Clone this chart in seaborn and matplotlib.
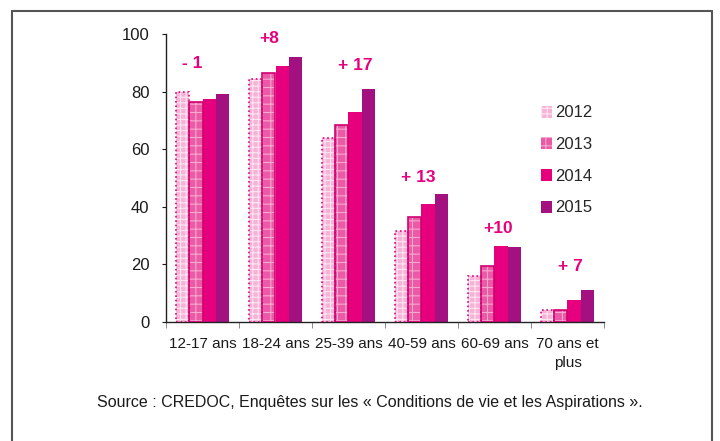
import matplotlib
matplotlib.use("Agg")
import matplotlib.pyplot as plt
import seaborn as sns
import pandas as pd
from matplotlib.patches import Rectangle
from matplotlib.lines import Line2D

categories = ["12-17 ans", "18-24 ans", "25-39 ans", "40-59 ans", "60-69 ans", "70 ans et\nplus"]
years = ["2012", "2013", "2014", "2015"]
v2012 = [80, 84.5, 64, 31.5, 16, 4.3]
v2013 = [76.3, 86.5, 68.4, 36.4, 19.3, 4.3]
v2014 = [77.5, 88.8, 72.8, 40.8, 26.5, 7.8]
v2015 = [79, 92, 81, 44.3, 26, 11]
deltas = ["- 1", "+8", "+ 17", "+ 13", "+10", "+ 7"]
delta_y = [89.6, 98.6, 89.2, 50, 32.6, 19.4]
delta_dx = [-0.14, -0.09, 0.09, -0.05, 0.05, 0.04]

rows = []
for i, c in enumerate(categories):
    for y, vals in zip(years, [v2012, v2013, v2014, v2015]):
        rows.append({"cat": c, "year": y, "val": vals[i]})
df = pd.DataFrame(rows)

face = {"2012": "#f6b3d6", "2013": "#ea5aa6", "2014": "#e6007e", "2015": "#a2117f"}
hatchc = {"2012": "#fde6f2", "2013": "#f6a9d0", "2014": None, "2015": None}
edge = {"2012": "#e6007e", "2013": "#d1006f", "2014": "#e6007e", "2015": "#a2117f"}

sns.set_style("white")
plt.rcParams["font.family"] = ["Liberation Sans", "DejaVu Sans"]
plt.rcParams["hatch.linewidth"] = 0.8

fig = plt.figure(figsize=(7.2, 4.41), dpi=100)
ax = fig.add_axes([166 / 720, 1 - 322 / 441, 438 / 720, 288 / 441])

sns.barplot(data=df, x="cat", y="val", hue="year", palette=face, width=0.73,
            saturation=1, ax=ax, legend=False, linewidth=0)

nc = len(categories)
bars = [p for p in ax.patches if isinstance(p, Rectangle)][: nc * len(years)]
for j, y in enumerate(years):
    for k in range(nc):
        p = bars[j * nc + k]
        if hatchc[y] is not None:
            p.set_hatch("+++" if y == "2012" else "++")
            p.set_edgecolor(hatchc[y])
            p.set_linewidth(0)
            ls = ":" if y == "2012" else "-"
            ax.add_patch(Rectangle(p.get_xy(), p.get_width(), p.get_height(),
                                   fill=False, edgecolor=edge[y], linewidth=1.2,
                                   linestyle=ls, zorder=3))

ax.set_ylim(0, 100)
ax.set_xlim(-0.5, nc - 0.5)
ax.set_yticks([0, 20, 40, 60, 80, 100])
ax.set_xticks([i - 0.5 for i in range(nc + 1)], minor=True)
ax.tick_params(axis="x", which="major", length=0, pad=11, labelsize=11, colors="#1a1a1a")
ax.tick_params(axis="x", which="minor", length=4, color="#777777", direction="out", bottom=True)
ax.tick_params(axis="y", length=3, pad=9, labelsize=12, colors="#1a1a1a", left=True, direction="out")
for lbl in ax.get_xticklabels():
    lbl.set_linespacing(1.4)
ax.set_xlabel("")
ax.set_ylabel("")
for s in ["top", "right"]:
    ax.spines[s].set_visible(False)
for s in ["left", "bottom"]:
    ax.spines[s].set_color("#222222")
    ax.spines[s].set_linewidth(1.0)

for i, (t, yy, dx) in enumerate(zip(deltas, delta_y, delta_dx)):
    ax.text(i + dx, yy, t, ha="center", va="center", color="#e6007e",
            fontsize=12.5, fontweight="bold")

handles = []
for y in years:
    h = Rectangle((0, 0), 1, 1, facecolor=face[y],
                  edgecolor=hatchc[y] if hatchc[y] else face[y],
                  hatch=("+++" if y == "2012" else "++") if hatchc[y] else None, linewidth=0)
    handles.append(h)
leg = ax.legend(handles, years, loc="upper left", bbox_to_anchor=(0.84, 0.775),
                frameon=False, fontsize=12, handlelength=0.7, handleheight=0.75,
                handletextpad=0.15, labelspacing=1.0, borderaxespad=0)

fig.text(370 / 720, 1 - 403 / 441,
         "Source : CREDOC, Enquêtes sur les « Conditions de vie et les Aspirations ».",
         ha="center", va="center", fontsize=11.5, color="#1a1a1a")

fc = "#555555"
fig.add_artist(Line2D([12 / 720, 12 / 720], [0, 1 - 11 / 441], color=fc, lw=1.5, transform=fig.transFigure))
fig.add_artist(Line2D([12 / 720, 712 / 720], [1 - 11 / 441, 1 - 11 / 441], color=fc, lw=1.5, transform=fig.transFigure))
fig.add_artist(Line2D([712 / 720, 712 / 720], [0, 1 - 11 / 441], color=fc, lw=1.5, transform=fig.transFigure))

fig.savefig("out.png", dpi=100)
